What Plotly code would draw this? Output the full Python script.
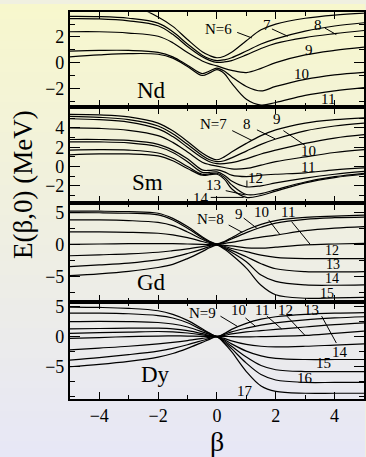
import plotly.graph_objects as go

# ---------------- data ----------------
beta = [-5, -4, -3, -2, -1.5, -1, -0.5, -0.25, 0, 0.25, 0.5, 1, 1.5, 2, 3, 4, 5]

# Nd, N = 6..11
nd_6 = [5.5, 5.2, 4.6, 3.55, 2.82, 1.8, 0.85, 0.55, 0.38, 0.5, 0.8, 1.7, 2.55, 3.0, 3.45, 3.7, 3.85]
nd_7 = [3.6, 3.58, 3.45, 3.07, 2.4, 1.45, 0.58, 0.3, 0.15, 0.22, 0.38, 0.9, 1.45, 1.85, 2.45, 2.85, 3.1]
nd_8 = [3.42, 3.4, 3.25, 2.87, 2.2, 1.25, 0.45, 0.18, 0.02, 0.05, 0.15, 0.6, 1.1, 1.5, 1.95, 2.25, 2.5]
nd_9 = [2.4, 2.4, 2.3, 2.05, 1.55, 0.78, 0.13, -0.1, -0.25, -0.45, -0.6, -0.77, -0.45, 0.0, 0.6, 0.95, 1.2]
nd_10 = [0.9, 0.95, 0.95, 0.8, 0.45, -0.2, -0.85, -0.65, -0.42, -0.65, -1.1, -1.85, -2.2, -1.85, -1.3, -0.95, -0.75]
nd_11 = [0.45, 0.6, 0.7, 0.65, 0.35, -0.3, -1.0, -0.8, -0.55, -0.85, -1.6, -2.85, -3.3, -3.1, -2.55, -2.2, -1.95]

# Sm, N = 7..14
sm_7 = [5.4, 5.35, 5.15, 4.5, 3.7, 2.6, 1.4, 0.95, 0.7, 1.0, 1.5, 2.4, 3.2, 3.8, 4.5, 4.85, 5.05]
sm_8 = [5.2, 5.1, 4.85, 4.2, 3.4, 2.3, 1.15, 0.7, 0.5, 0.6, 0.9, 1.6, 2.3, 2.85, 3.7, 4.2, 4.5]
sm_9 = [4.95, 4.85, 4.6, 3.9, 3.1, 2.0, 0.9, 0.5, 0.3, 0.3, 0.4, 0.8, 1.3, 1.7, 2.4, 2.95, 3.3]
sm_10 = [4.0, 3.95, 3.75, 3.2, 2.5, 1.5, 0.45, 0.2, 0.05, -0.1, -0.25, -0.2, 0.15, 0.5, 1.0, 1.45, 1.75]
sm_11 = [2.8, 2.8, 2.7, 2.3, 1.7, 0.8, -0.35, -0.4, -0.35, -0.55, -0.9, -1.05, -0.9, -0.8, -0.65, -0.35, -0.15]
sm_12 = [2.55, 2.55, 2.45, 2.05, 1.45, 0.5, -0.6, -0.6, -0.55, -0.9, -1.5, -2.1, -2.0, -1.7, -1.2, -0.8, -0.5]
sm_13 = [1.7, 1.75, 1.7, 1.4, 0.85, 0.0, -0.8, -0.75, -0.7, -1.1, -1.9, -2.9, -2.8, -2.4, -1.6, -1.05, -0.7]
sm_14 = [1.2, 1.3, 1.3, 1.1, 0.6, -0.2, -0.9, -0.85, -0.8, -1.3, -2.3, -3.2, -3.0, -2.55, -1.7, -1.15, -0.8]

# Gd, N = 8..15
gd_8 = [5.3, 5.28, 5.2, 4.95, 4.15, 2.85, 1.25, 0.55, 0.12, 0.5, 1.1, 2.3, 3.2, 3.8, 4.3, 4.5, 4.65]
gd_9 = [5.05, 5.03, 4.95, 4.7, 3.9, 2.6, 1.1, 0.45, 0.1, 0.38, 0.9, 1.9, 2.75, 3.4, 4.0, 4.25, 4.35]
gd_10 = [3.9, 3.9, 3.8, 3.5, 3.0, 2.0, 0.85, 0.35, 0.07, 0.2, 0.35, 0.8, 1.2, 1.5, 2.2, 2.6, 2.85]
gd_11 = [2.0, 2.0, 1.95, 1.8, 1.55, 1.1, 0.5, 0.2, 0.04, -0.1, -0.2, -0.5, -0.55, -0.4, -0.05, 0.1, 0.2]
gd_12 = [0.05, 0.1, 0.15, 0.15, 0.15, 0.1, 0.05, 0.02, 0.0, -0.25, -0.6, -1.1, -1.65, -2.0, -2.2, -2.2, -2.2]
gd_13 = [-1.75, -1.6, -1.45, -1.2, -0.95, -0.65, -0.3, -0.12, -0.02, -0.4, -0.9, -1.9, -3.0, -3.8, -4.25, -4.3, -4.25]
gd_14 = [-3.45, -3.2, -2.9, -2.4, -2.0, -1.4, -0.7, -0.3, -0.05, -0.55, -1.2, -2.7, -4.8, -5.8, -6.35, -6.4, -6.35]
gd_15 = [-4.9, -4.6, -4.2, -3.6, -3.1, -2.2, -1.1, -0.5, -0.08, -0.7, -1.6, -3.7, -6.4, -7.9, -8.45, -8.4, -8.3]

# Dy, N = 9..17
dy_9 = [4.9, 4.85, 4.7, 4.3, 3.7, 2.7, 1.3, 0.6, 0.05, 0.5, 1.2, 2.2, 2.9, 3.3, 3.7, 3.9, 4.0]
dy_10 = [3.9, 3.9, 3.8, 3.5, 3.1, 2.3, 1.1, 0.5, 0.04, 0.35, 0.8, 1.4, 1.9, 2.3, 2.8, 3.1, 3.3]
dy_11 = [2.5, 2.55, 2.5, 2.35, 2.1, 1.6, 0.8, 0.35, 0.03, 0.2, 0.45, 0.8, 1.0, 1.2, 1.6, 2.0, 2.3]
dy_12 = [1.3, 1.35, 1.4, 1.4, 1.3, 1.0, 0.5, 0.2, 0.02, 0.05, 0.0, -0.05, 0.0, 0.05, 0.2, 0.55, 0.9]
dy_13 = [0.55, 0.65, 0.75, 0.85, 0.8, 0.6, 0.3, 0.12, 0.0, -0.3, -0.7, -1.3, -1.6, -1.7, -1.6, -1.4, -1.2]
dy_14 = [-0.3, -0.15, 0.0, 0.1, 0.12, 0.1, 0.05, 0.0, -0.01, -0.5, -1.2, -2.4, -3.2, -3.6, -3.8, -3.8, -3.8]
dy_15 = [-2.2, -1.9, -1.6, -1.2, -0.95, -0.65, -0.3, -0.12, -0.02, -0.7, -1.6, -3.4, -4.8, -5.5, -5.8, -5.8, -5.8]
dy_16 = [-3.9, -3.5, -3.0, -2.4, -1.95, -1.35, -0.65, -0.3, -0.03, -0.9, -2.0, -4.4, -6.3, -7.2, -7.6, -7.6, -7.6]
dy_17 = [-5.0, -4.6, -4.1, -3.4, -2.8, -1.95, -0.95, -0.45, -0.05, -1.1, -2.5, -5.8, -8.2, -9.1, -9.4, -9.4, -9.4]

elements = ["Nd", "Sm", "Gd", "Dy"]
x_ticks = [-4, -2, 0, 2, 4]
x_minor = [-3, -1, 1, 3]

# ---------------- figure ----------------
FONT = "'Liberation Serif', 'Times New Roman', Times, 'DejaVu Serif', serif"
W, H = 366, 457
panels = [
    [nd_6, nd_7, nd_8, nd_9, nd_10, nd_11],
    [sm_7, sm_8, sm_9, sm_10, sm_11, sm_12, sm_13, sm_14],
    [gd_8, gd_9, gd_10, gd_11, gd_12, gd_13, gd_14, gd_15],
    [dy_9, dy_10, dy_11, dy_12, dy_13, dy_14, dy_15, dy_16, dy_17],
]
frames = [(7.3, 103), (103, 200), (200, 300), (300, 398)]
y_ranges = [(-3.44, 3.92), (-3.76, 6.18), (-9.0, 6.6), (-10.3, 5.8)]
y_major = [[-2, 0, 2], [-2, 0, 2, 4], [-5, 0, 5], [-5, 0, 5]]
y_minor = [[-3, -1, 1, 3], [-3, -1, 1, 3, 5], [-7.5, -2.5, 2.5], [-10, -7.5, -2.5, 2.5]]
x_dom = [70 / W, 365 / W]

fig = go.Figure()

top_c = (247, 247, 205)
bot_c = (231, 231, 246)
nb = 60
shapes = []
for i in range(nb):
    t = (i + 0.5) / nb
    c = tuple(round(top_c[j] + (bot_c[j] - top_c[j]) * t) for j in range(3))
    shapes.append(dict(type="rect", xref="paper", yref="paper", x0=0, x1=1,
                       y0=1 - (i + 1) / nb - 0.002, y1=1 - i / nb + 0.002,
                       fillcolor="rgb(%d,%d,%d)" % c, line=dict(width=0), layer="below"))

for k, curves in enumerate(panels, start=1):
    for ys in curves:
        fig.add_trace(go.Scatter(x=beta, y=ys, mode="lines", xaxis="x%d" % k, yaxis="y%d" % k,
                                 line=dict(color="black", width=1.2, shape="spline", smoothing=1.0),
                                 hoverinfo="skip", showlegend=False))

layout = dict(width=W, height=H, margin=dict(l=0, r=0, t=0, b=0),
              paper_bgcolor="rgb(240,240,225)", plot_bgcolor="rgba(0,0,0,0)",
              font=dict(family=FONT, color="black", size=18), showlegend=False)

for k in range(1, 5):
    t, b = frames[k - 1]
    dom = [1 - b / H, 1 - t / H]
    xa = dict(domain=x_dom, range=[-5, 5], anchor="y%d" % k, showline=True, linecolor="black",
              linewidth=1.8, mirror="ticks", ticks="inside", ticklen=7, tickwidth=1.2, tickcolor="black",
              tickmode="array", tickvals=x_ticks, showgrid=False, zeroline=False,
              minor=dict(tickmode="array", tickvals=x_minor, ticks="inside", ticklen=4,
                         tickwidth=1, tickcolor="black"),
              showticklabels=(k == 4), tickfont=dict(family=FONT, size=18))
    if k != 4:
        xa["matches"] = "x4"
    ya = dict(domain=dom, range=list(y_ranges[k - 1]), anchor="x%d" % k, showline=True,
              linecolor="black", linewidth=1.8, mirror="ticks", ticks="inside", ticklen=10,
              tickwidth=1.2, tickcolor="black", tickmode="array", tickvals=y_major[k - 1],
              showgrid=False, zeroline=False, tickfont=dict(family=FONT, size=18),
              minor=dict(tickmode="array", tickvals=y_minor[k - 1], ticks="inside", ticklen=5,
                         tickwidth=1, tickcolor="black"))
    layout["xaxis%d" % k] = xa
    layout["yaxis%d" % k] = ya

LS = 15
labels = [
    [("Nd", -2.23, -2.2, 23), ("N=6", 0.04, 2.64, LS), ("7", 1.7, 2.95, LS), ("8", 3.45, 2.95, LS),
     ("9", 3.14, 1.02, LS), ("10", 2.86, -0.9, LS), ("11", 3.76, -2.83, LS)],
    [("Sm", -2.36, -1.7, 23), ("N=7", -0.1, 4.41, LS), ("8", 1.02, 4.41, LS), ("9", 2.04, 4.92, LS),
     ("10", 3.1, 1.6, LS), ("11", 3.1, -0.1, LS), ("12", 1.31, -1.23, LS), ("13", -0.1, -1.92, LS),
     ("14", -0.55, -3.28, LS)],
    [("Gd", -2.23, -6.0, 23), ("N=8", -0.21, 4.06, LS), ("9", 0.74, 4.8, LS), ("10", 1.53, 5.1, LS),
     ("11", 2.43, 5.1, LS), ("12", 3.9, -0.9, 14), ("13", 3.95, -3.15, 14), ("14", 3.9, -5.4, 14),
     ("15", 3.73, -7.65, 14)],
    [("Dy", -2.1, -6.3, 23), ("N=9", -0.5, 3.95, LS), ("10", 0.74, 4.38, LS), ("11", 1.53, 4.38, LS),
     ("12", 2.32, 4.38, LS), ("13", 3.22, 4.38, LS), ("14", 4.18, -2.6, LS), ("15", 3.61, -4.4, LS),
     ("16", 3.0, -6.9, LS), ("17", 0.97, -9.1, LS)],
]
pointers = [
    [(0.69, 2.35, 1.19, 1.92), (1.87, 2.62, 2.41, 2.05), (3.67, 2.69, 4.06, 2.18)],
    [(0.52, 3.72, 1.19, 2.7), (1.36, 3.8, 1.98, 2.87), (2.26, 3.72, 3.0, 2.18),
     (1.02, -1.45, 1.02, -2.1), (0.3, -2.5, 0.97, -2.95), (-0.21, -3.2, 0.91, -3.2)],
    [(0.4, 3.1, 0.86, 1.95), (0.91, 4.2, 1.36, 2.58), (1.76, 3.9, 2.15, 1.53), (2.54, 3.63, 3.17, 0.05)],
    [(0.12, 3.4, 0.69, 1.72), (0.97, 3.1, 1.31, 1.72), (1.7, 3.4, 2.2, 1.28), (2.38, 3.4, 3.0, 0.17),
     (3.56, 3.4, 4.06, -1.06)],
]
annotations = []
for k in range(1, 5):
    for txt, bx, ey, fs in labels[k - 1]:
        annotations.append(dict(text=txt, x=bx, y=ey, xref="x%d" % k, yref="y%d" % k, showarrow=False,
                                xanchor="center", yanchor="middle",
                                font=dict(family=FONT, size=fs, color="black")))
    for x0, y0, x1, y1 in pointers[k - 1]:
        shapes.append(dict(type="line", xref="x%d" % k, yref="y%d" % k, x0=x0, y0=y0, x1=x1, y1=y1,
                           line=dict(color="black", width=1)))

annotations.append(dict(text="E(β,0) (MeV)", x=23 / W, y=1 - 181 / H, xref="paper", yref="paper",
                        showarrow=False, textangle=-90, xanchor="center", yanchor="middle",
                        font=dict(family=FONT, size=27, color="black")))
annotations.append(dict(text="β", x=218 / W, y=1 - 441 / H, xref="paper", yref="paper",
                        showarrow=False, xanchor="center", yanchor="middle",
                        font=dict(family=FONT, size=28, color="black")))

layout["shapes"] = shapes
layout["annotations"] = annotations
fig.update_layout(**layout)
fig.write_html("out.html")
